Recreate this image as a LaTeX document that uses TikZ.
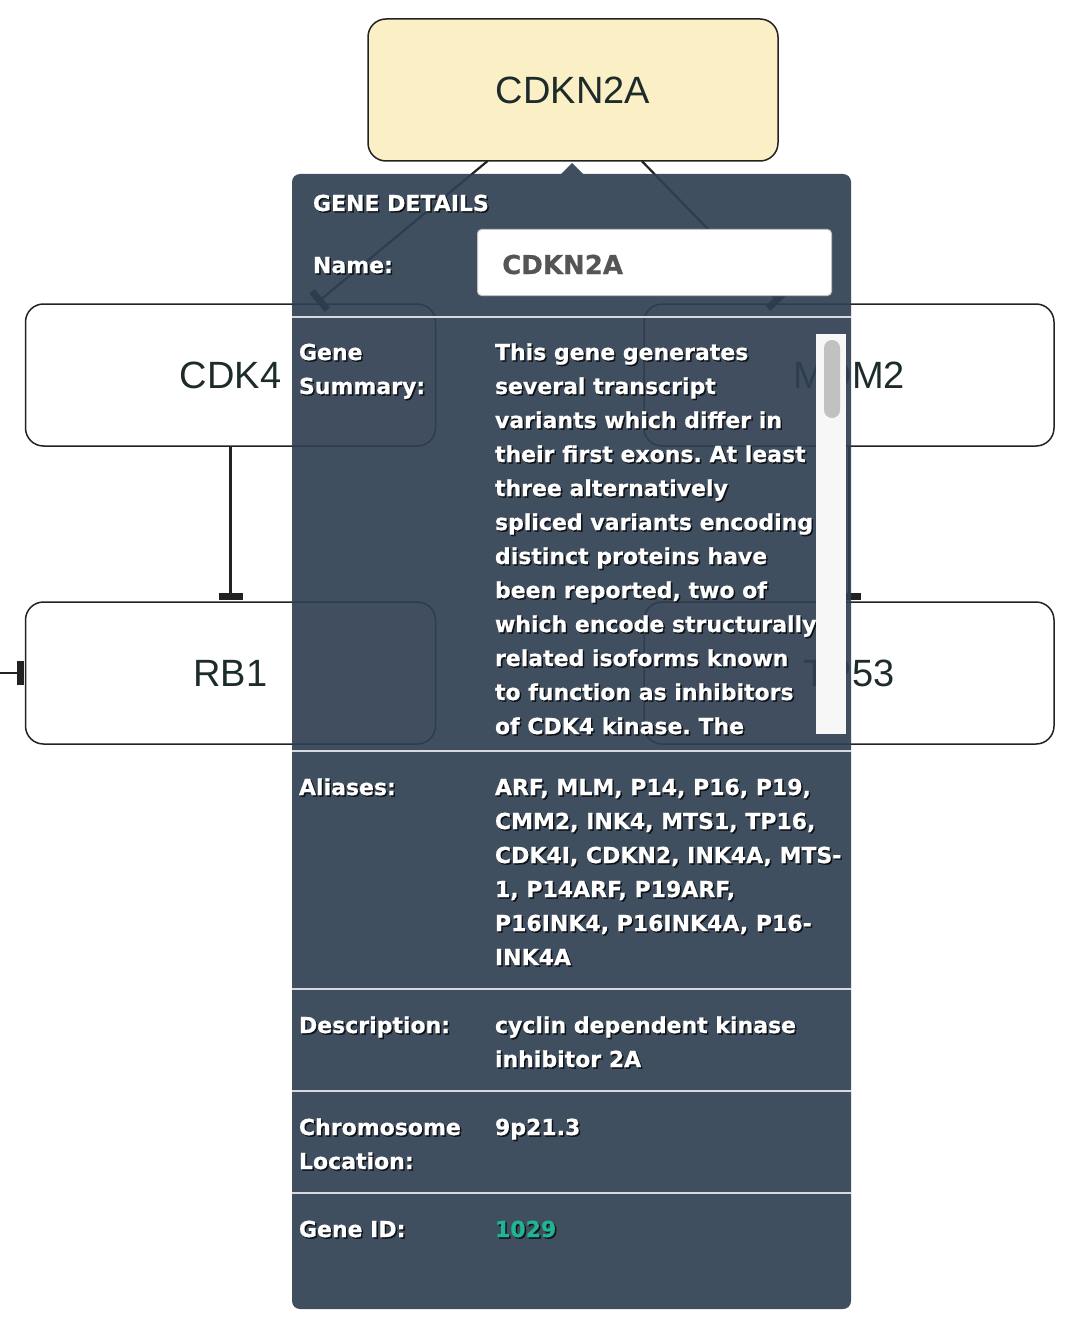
\documentclass[tikz,border=0pt]{standalone}
\usepackage{fontspec}
\setmainfont{Liberation Sans}
\newfontfamily\pf{DejaVu Sans}[BoldFeatures={FakeBold=0.6}]
\usetikzlibrary{arrows.meta}
\definecolor{panel}{HTML}{304052}
\definecolor{nodeline}{HTML}{222222}
\definecolor{nodetext}{HTML}{1E2B2B}
\definecolor{hilite}{HTML}{FBEFC6}
\definecolor{sepline}{HTML}{D6DADF}
\definecolor{teal}{HTML}{1FB594}
\definecolor{track}{HTML}{F7F7F7}
\definecolor{thumb}{HTML}{C1C1C1}
\definecolor{inputtext}{HTML}{555555}
\tikzset{
  gene/.style={draw=nodeline, line width=1.5pt, rounded corners=18pt, fill=white,
    minimum width=410pt, minimum height=142pt, inner sep=0pt, outer sep=0pt,
    text=nodetext, font=\fontsize{38}{44}\selectfont},
  inhib/.style={draw=nodeline, line width=2.2pt, -{Bar[width=24pt,line width=7pt]}, shorten >=2pt},
  ptxt/.style={anchor=base west, inner sep=0pt, outer sep=0pt, text=white,
    font=\pf\bfseries\frenchspacing\fontsize{22}{34}\selectfont},
  pshadow/.style={ptxt, text=black, opacity=0.75},
  sep/.style={draw=sepline, line width=2pt}
}
\newcommand\ptline[4]{%
  \node[pshadow] (#1s) at (#2+1.5,#3+1.5) {#4};
  \node[ptxt] (#1) at (#2,#3) {#4};}
\newcommand\plines[4]{%
  \foreach \t [count=\i from 0] in {#4} {\ptline{#1\i}{#2}{#3+34*\i}{\t}}}
\begin{document}
\begin{tikzpicture}[x=1pt,y=-1pt]
\useasboundingbox (0,0) rectangle (1077,1324);
% gene nodes
\node[gene, fill=hilite] (cdkn2a) at (573,90) {CDKN2A};
\node[gene] (cdk4) at (230.5,375) {CDK4};
\node[gene] (mdm2) at (849,375) {MDM2};
\node[gene] (rb1) at (230.5,673) {RB1};
\node[gene] (tp53) at (849,673) {TP53};
\coordinate (lft) at (-10,673);
% edges
\draw[inhib] (cdkn2a) -- (cdk4);
\draw[inhib] (cdkn2a) -- (mdm2);
\draw[inhib] (cdk4) -- (rb1);
\draw[inhib] (mdm2) -- (tp53);
\draw[inhib] (lft) -- (rb1);
% panel
\fill[panel, opacity=0.92, rounded corners=8pt] (292,174) rectangle (851,1309);
\fill[panel, opacity=0.92] (561,174) -- (572,163) -- (583,174) -- cycle;
% header
\ptline{hdr}{313}{211}{GENE DETAILS}
\ptline{namelbl}{313}{273}{Name:}
\node[draw=thumb, line width=1pt, fill=white, rounded corners=4pt, minimum width=354pt,
  minimum height=66pt, inner sep=0pt, anchor=north west] (namebox) at (477,229) {};
\node[anchor=base west, inner sep=0pt, text=inputtext, font=\pf\bfseries\fontsize{26}{30}\selectfont]
  (nameval) at (502,274) {CDKN2A};
% separators
\coordinate (s1l) at (292,317); \coordinate (s1r) at (851,317);
\coordinate (s2l) at (292,751); \coordinate (s2r) at (851,751);
\coordinate (s3l) at (292,989); \coordinate (s3r) at (851,989);
\coordinate (s4l) at (292,1091); \coordinate (s4r) at (851,1091);
\coordinate (s5l) at (292,1193); \coordinate (s5r) at (851,1193);
\draw[sep] (s1l) -- (s1r);
\draw[sep] (s2l) -- (s2r);
\draw[sep] (s3l) -- (s3r);
\draw[sep] (s4l) -- (s4r);
\draw[sep] (s5l) -- (s5r);
% gene summary
\plines{sumlbl}{299}{360}{{Gene},{Summary:}}
\plines{sum}{495}{360}{{This gene generates},{several transcript},{variants which differ in},{their first exons. At least},{three alternatively},{spliced variants encoding},{distinct proteins have},{been reported, two of},{which encode structurally},{related isoforms known},{to function as inhibitors},{of CDK4 kinase. The}}
\fill[track] (816,334) rectangle (846,734);
\fill[thumb, rounded corners=8pt] (824,340) rectangle (840,418);
% aliases
\ptline{alilbl}{299}{795}{Aliases:}
\plines{ali}{495}{795}{{ARF, MLM, P14, P16, P19,},{CMM2, INK4, MTS1, TP16,},{CDK4I, CDKN2, INK4A, MTS-},{1, P14ARF, P19ARF,},{P16INK4, P16INK4A, P16-},{INK4A}}
% description
\ptline{desclbl}{299}{1033}{Description:}
\plines{desc}{495}{1033}{{cyclin dependent kinase},{inhibitor 2A}}
% chromosome
\plines{chrlbl}{299}{1135}{{Chromosome},{Location:}}
\ptline{chr}{495}{1135}{9p21.3}
% gene id
\ptline{gidlbl}{299}{1237}{Gene ID:}
\node[pshadow] (gids) at (495+1.5,1237+1.5) {1029};
\node[ptxt, text=teal] (gid) at (495,1237) {1029};
\end{tikzpicture}
\end{document}
